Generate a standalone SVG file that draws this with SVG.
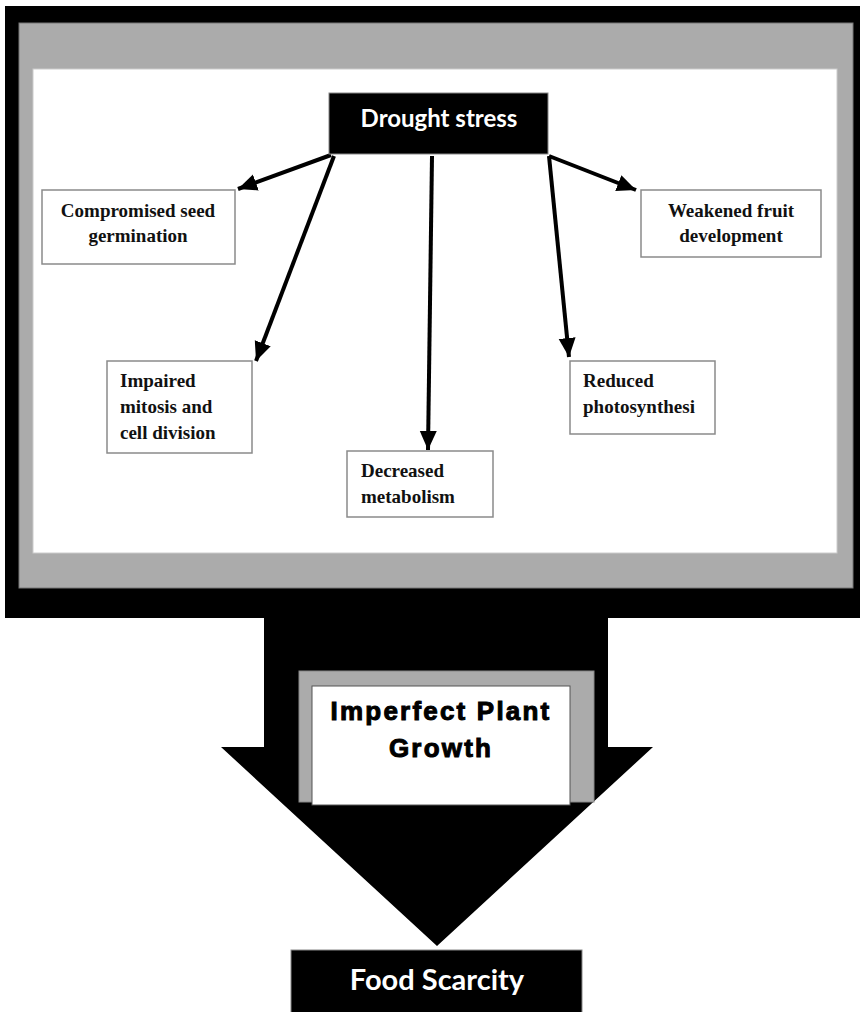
<svg xmlns="http://www.w3.org/2000/svg" width="860" height="1012" viewBox="0 0 860 1012">
  <style>
    .frame-outer { fill: #000; }
    .frame-mid { fill: #ababab; stroke: #777; stroke-width: 1; }
    .frame-inner { fill: #fff; stroke: #ccc; stroke-width: 1; }
    .effect { fill: #fff; stroke: #8a8a8a; stroke-width: 1.5; }
    .effect-text { font-family: "Liberation Serif", "Times New Roman", serif; font-weight: bold; font-size: 19px; fill: #111; }
    .dark-box { fill: #000; stroke: #888; stroke-width: 1; }
    .dark-text { font-family: Lato, "Open Sans", "Liberation Sans", sans-serif; font-weight: bold; fill: #fff; text-anchor: middle; }
    .link { stroke: #000; stroke-width: 4; fill: none; marker-end: url(#head); }
    .growth-text { font-family: "Liberation Sans", Arial, sans-serif; font-weight: 900; font-size: 26px; fill: #000; stroke: #000; stroke-width: 1; letter-spacing: 2.2px; text-anchor: middle; }
  </style>
  <defs>
    <marker id="head" markerUnits="userSpaceOnUse" markerWidth="22" markerHeight="18" refX="19" refY="8.5" orient="auto">
      <path d="M0,0 L19,8.5 L0,17 Z" fill="#000"/>
    </marker>
  </defs>

  <rect width="860" height="1012" fill="#fff"/>

  <!-- outer monitor-style frame -->
  <g id="frame">
    <rect class="frame-outer" x="5" y="6" width="860" height="612"/>
    <rect class="frame-mid" x="19" y="23" width="834" height="565"/>
    <rect class="frame-inner" x="33" y="69" width="804" height="484"/>
  </g>

  <!-- broad downward arrow to food scarcity -->
  <g id="big-arrow">
    <polygon points="264,610 608,610 608,747 653,747 437,946 221,747 264,747" fill="#000"/>
  </g>

  <g id="connectors">
    <line class="link" x1="331" y1="155" x2="238" y2="189"/>
    <line class="link" x1="334" y1="156" x2="256" y2="361"/>
    <line class="link" x1="432" y1="156" x2="428" y2="450"/>
    <line class="link" x1="549" y1="156" x2="569" y2="357"/>
    <line class="link" x1="549" y1="156" x2="636" y2="190"/>
  </g>

  <g id="drought-stress">
    <rect class="dark-box" x="329" y="93" width="219" height="61"/>
    <text class="dark-text" x="439" y="127" font-size="24">Drought stress</text>
  </g>

  <g id="seed-germination">
    <rect class="effect" x="42" y="190" width="193" height="74"/>
    <text class="effect-text" x="138" y="217" text-anchor="middle">Compromised seed</text>
    <text class="effect-text" x="138" y="242" text-anchor="middle">germination</text>
  </g>

  <g id="fruit-development">
    <rect class="effect" x="641" y="190" width="180" height="67"/>
    <text class="effect-text" x="731" y="217" text-anchor="middle">Weakened fruit</text>
    <text class="effect-text" x="731" y="242" text-anchor="middle">development</text>
  </g>

  <g id="mitosis">
    <rect class="effect" x="107" y="361" width="145" height="92"/>
    <text class="effect-text" x="120" y="387">Impaired</text>
    <text class="effect-text" x="120" y="413">mitosis and</text>
    <text class="effect-text" x="120" y="439">cell division</text>
  </g>

  <g id="metabolism">
    <rect class="effect" x="347" y="451" width="146" height="66"/>
    <text class="effect-text" x="361" y="477">Decreased</text>
    <text class="effect-text" x="361" y="503">metabolism</text>
  </g>

  <g id="photosynthesis">
    <rect class="effect" x="570" y="361" width="145" height="73"/>
    <text class="effect-text" x="583" y="387">Reduced</text>
    <text class="effect-text" x="583" y="413">photosynthesi</text>
  </g>

  <g id="plant-growth">
    <rect x="299" y="671" width="295" height="131" fill="#ababab" stroke="#888" stroke-width="1"/>
    <rect x="312" y="686" width="258" height="119" fill="#fff" stroke="#555" stroke-width="1"/>
    <text class="growth-text" x="441" y="720">Imperfect Plant</text>
    <text class="growth-text" x="441" y="757">Growth</text>
  </g>

  <g id="food-scarcity">
    <rect class="dark-box" x="291" y="950" width="291" height="70"/>
    <text class="dark-text" x="437" y="990" font-size="29">Food Scarcity</text>
  </g>
</svg>
